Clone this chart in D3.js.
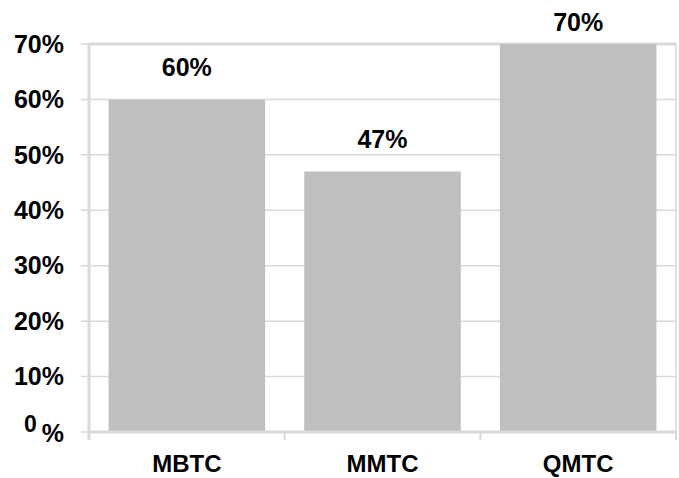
<!DOCTYPE html>
<html>
<head>
<meta charset="utf-8">
<script src="https://cdn.jsdelivr.net/npm/d3@7"></script>
<style>
  body { margin: 0; background: #fff; }
  text, tspan { font-family: Arial, "Liberation Sans", sans-serif; font-weight: bold; fill: #000; }
</style>
</head>
<body>
<div id="chart"></div>
<script>
var categories = ['MBTC', 'MMTC', 'QMTC'];
var values = [60, 47, 70];
var yTicks = [0, 10, 20, 30, 40, 50, 60, 70];

var margin = {top: 44, right: 3, bottom: 46, left: 89},
    width = 679 - margin.left - margin.right,
    height = 478 - margin.top - margin.bottom;

var svg = d3.select("#chart")
  .append("svg")
  .attr("width", 679)
  .attr("height", 478)
  .append("g")
  .attr("transform", "translate(" + margin.left + "," + margin.top + ")");

var x = d3.scaleBand()
  .domain(categories)
  .range([0, width])
  .paddingInner(0.2)
  .paddingOuter(0.1);

var y = d3.scaleLinear()
  .domain([0, 70])
  .range([height, 0]);

// gridlines
svg.append("g")
  .selectAll("line")
  .data(yTicks)
  .enter().append("line")
  .attr("x1", -8)
  .attr("x2", width)
  .attr("y1", function(d) { return y(d); })
  .attr("y2", function(d) { return y(d); })
  .attr("stroke", "#d9d9d9")
  .attr("stroke-width", 1.5);

// right border and top border
svg.append("line")
  .attr("x1", width).attr("x2", width)
  .attr("y1", 0).attr("y2", height)
  .attr("stroke", "#d9d9d9").attr("stroke-width", 1.5);
svg.append("line")
  .attr("x1", 0).attr("x2", width)
  .attr("y1", 0).attr("y2", 0)
  .attr("stroke", "#d9d9d9").attr("stroke-width", 3);

// bars
svg.selectAll(".bar")
  .data(values)
  .enter().append("rect")
  .attr("class", "bar")
  .attr("x", function(d, i) { return x(categories[i]); })
  .attr("width", x.bandwidth())
  .attr("y", function(d) { return y(d); })
  .attr("height", function(d) { return height - y(d); })
  .attr("fill", "#bfbfbf");

// value labels (kept inside the top of the chart area)
svg.selectAll(".label")
  .data(values)
  .enter().append("text")
  .attr("class", "label")
  .attr("x", function(d, i) { return x(categories[i]) + x.bandwidth() / 2; })
  .attr("y", function(d) { return Math.max(y(d) - 23, -13); })
  .attr("text-anchor", "middle")
  .style("font-size", "25px")
  .text(function(d) { return d + "%"; });

// y axis line
svg.append("line")
  .attr("x1", 0).attr("x2", 0)
  .attr("y1", 0).attr("y2", height + 8)
  .attr("stroke", "#d9d9d9").attr("stroke-width", 3);

// x axis line and ticks
svg.append("line")
  .attr("x1", 0).attr("x2", width)
  .attr("y1", height).attr("y2", height)
  .attr("stroke", "#d9d9d9").attr("stroke-width", 3);

var xTickPos = categories.map(function(c) { return x(c) - x.step() * x.paddingInner() / 2; });
xTickPos.push(width);
svg.append("g")
  .selectAll("line")
  .data(xTickPos)
  .enter().append("line")
  .attr("x1", function(d) { return d; })
  .attr("x2", function(d) { return d; })
  .attr("y1", height)
  .attr("y2", height + 8)
  .attr("stroke", "#d9d9d9")
  .attr("stroke-width", 2);

// y tick labels
svg.append("g")
  .selectAll("text")
  .data(yTicks.filter(function(d) { return d > 0; }))
  .enter().append("text")
  .attr("x", -25)
  .attr("y", function(d) { return y(d); })
  .attr("dy", "0.35em")
  .attr("text-anchor", "end")
  .style("font-size", "25px")
  .text(function(d) { return d + "%"; });

// the odd "0%" label: small zero, lowered percent sign
var zero = svg.append("text")
  .attr("x", -25)
  .attr("y", y(0))
  .attr("text-anchor", "end")
  .attr("font-size", 25);
zero.append("tspan").attr("font-size", 23).text("0");
zero.append("tspan").attr("font-size", 25).attr("dx", 5).attr("dy", 10).text("%");

// x labels
svg.append("g")
  .selectAll("text")
  .data(categories)
  .enter().append("text")
  .attr("x", function(d) { return x(d) + x.bandwidth() / 2; })
  .attr("y", height + 40)
  .attr("text-anchor", "middle")
  .style("font-size", "24px")
  .text(function(d) { return d; });
</script>
</body>
</html>
